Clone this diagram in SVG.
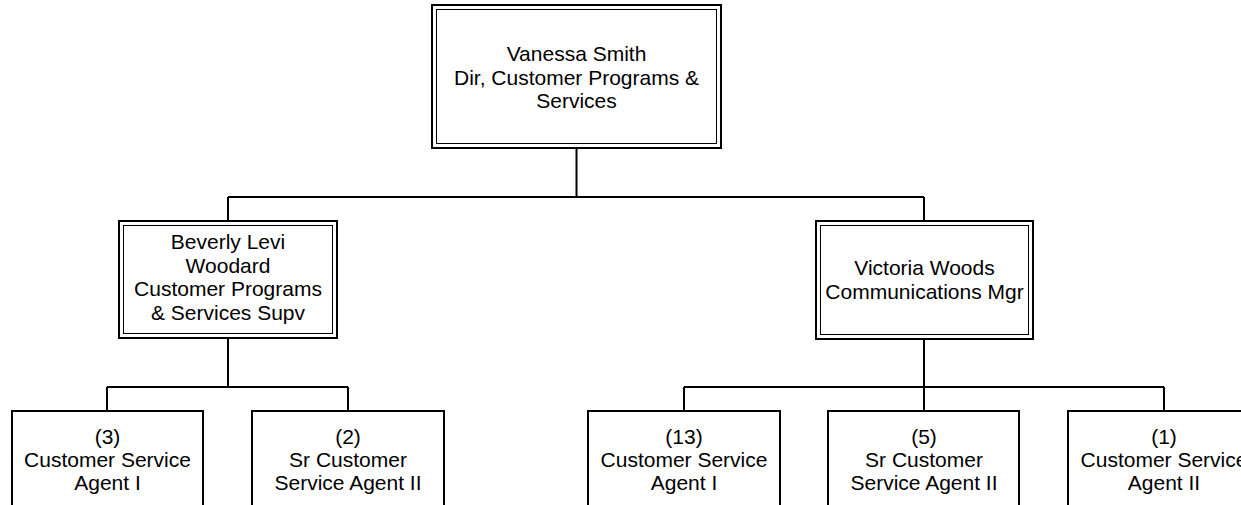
<svg xmlns="http://www.w3.org/2000/svg" width="1241" height="505" viewBox="0 0 1241 505">
<style>
.bg{fill:#fff}
.outer{fill:#fff;stroke:#000;stroke-width:2}
.inner{fill:none;stroke:#000;stroke-width:1}
.box{fill:#fff;stroke:#000;stroke-width:2}
.conn{fill:none;stroke:#000;stroke-width:2}
text{font-family:"Liberation Sans",Arial,sans-serif;font-size:21px;fill:#000;text-anchor:middle}
</style>
<rect class="bg" x="0" y="0" width="1241" height="505"/>
<g id="connectors">
<path class="conn" d="M576.5 148V197M228 197H924M228 197V221M924 197V221"/>
<path class="conn" d="M228 338V387M107 387H348M107 387V411M348 387V411"/>
<path class="conn" d="M924 339V387M684 387H1164M684 387V411M924 387V411M1164 387V411"/>
</g>
<g id="n-vanessa">
<rect class="outer" x="432" y="5" width="289" height="143"/>
<rect class="inner" x="436.5" y="9.5" width="280" height="134"/>
<text x="576.5" y="61">Vanessa Smith</text>
<text x="576.5" y="84.5">Dir, Customer Programs &amp;</text>
<text x="576.5" y="108">Services</text>
</g>
<g id="n-beverly">
<rect class="outer" x="119" y="221" width="218" height="117"/>
<rect class="inner" x="123.5" y="225.5" width="209" height="108"/>
<text x="228" y="249">Beverly Levi</text>
<text x="228" y="272.5">Woodard</text>
<text x="228" y="296">Customer Programs</text>
<text x="228" y="319.5">&amp; Services Supv</text>
</g>
<g id="n-victoria">
<rect class="outer" x="816" y="221" width="217" height="118"/>
<rect class="inner" x="820.5" y="225.5" width="208" height="109"/>
<text x="924.5" y="275">Victoria Woods</text>
<text x="924.5" y="298.5">Communications Mgr</text>
</g>
<g id="n-csa1-left">
<rect class="box" x="12" y="411" width="191" height="110"/>
<text x="107.5" y="444">(3)</text>
<text x="107.5" y="467">Customer Service</text>
<text x="107.5" y="490">Agent I</text>
</g>
<g id="n-srcsa-left">
<rect class="box" x="252" y="411" width="192" height="110"/>
<text x="348" y="444">(2)</text>
<text x="348" y="467">Sr Customer</text>
<text x="348" y="490">Service Agent II</text>
</g>
<g id="n-csa1-right">
<rect class="box" x="588" y="411" width="192" height="110"/>
<text x="684" y="444">(13)</text>
<text x="684" y="467">Customer Service</text>
<text x="684" y="490">Agent I</text>
</g>
<g id="n-srcsa-right">
<rect class="box" x="828" y="411" width="191" height="110"/>
<text x="924" y="444">(5)</text>
<text x="924" y="467">Sr Customer</text>
<text x="924" y="490">Service Agent II</text>
</g>
<g id="n-csa2">
<rect class="box" x="1068" y="411" width="192" height="110"/>
<text x="1164" y="444">(1)</text>
<text x="1164" y="467">Customer Service</text>
<text x="1164" y="490">Agent II</text>
</g>
</svg>
